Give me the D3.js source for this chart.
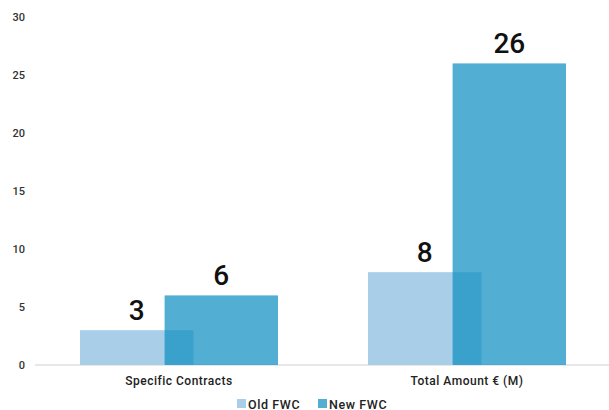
<!DOCTYPE html>
<html><head><meta charset="utf-8">
<script src="https://cdn.jsdelivr.net/npm/d3@7"></script>
<style>body{margin:0;background:#fff;font-family:Roboto,"Open Sans",sans-serif}</style>
</head><body><svg id="c" width="609" height="410"></svg>
<script>
const categories = ["Specific Contracts", "Total Amount € (M)"];
const oldFWC = [3, 8];
const newFWC = [6, 26];
const seriesNames = ["Old FWC", "New FWC"];
const yTicks = [0, 5, 10, 15, 20, 25, 30];

const svg = d3.select("#c");
const x = d3.scaleBand().domain(categories).range([35, 611]);
const y = d3.scaleLinear().domain([0, 30]).range([365, 17]);
const colors = ["rgb(169,206,232)", "rgba(15,143,193,0.72)"];
const barW = 113.4, off = 42.3;

svg.append("g").selectAll("text").data(yTicks).join("text")
  .attr("x", 25).attr("y", d => y(d)).attr("dy", "0.35em")
  .attr("text-anchor", "end").attr("font-size", 11).attr("font-weight", 500)
  .attr("fill", "#333").text(d => d);

svg.append("line").attr("x1", 35).attr("x2", 609).attr("y1", y(0)).attr("y2", y(0))
  .attr("stroke", "#d0d0d0").attr("stroke-width", 1);

const series = [oldFWC, newFWC];
series.forEach((vals, si) => {
  const dx = si === 0 ? -off : off;
  svg.append("g").selectAll("rect").data(vals).join("rect")
    .attr("x", (d, i) => x(categories[i]) + x.bandwidth() / 2 + dx - barW / 2)
    .attr("width", barW)
    .attr("y", d => y(d)).attr("height", d => y(0) - y(d))
    .attr("fill", colors[si]);
});
series.forEach((vals, si) => {
  const dx = si === 0 ? -off : off;
  svg.append("g").selectAll("text").data(vals).join("text")
    .attr("x", (d, i) => x(categories[i]) + x.bandwidth() / 2 + dx)
    .attr("y", d => y(d) - 10)
    .attr("text-anchor", "middle").attr("font-size", 28).attr("font-weight", 500)
    .attr("fill", "#111").text(d => d);
});

svg.append("g").selectAll("text").data(categories).join("text")
  .attr("x", d => x(d) + x.bandwidth() / 2).attr("y", 385)
  .attr("text-anchor", "middle").attr("font-size", 12).attr("font-weight", 500)
  .attr("letter-spacing", 0.5)
  .attr("fill", "#222").text(d => d);

const legX = [237, 318];
const lg = svg.append("g").selectAll("g").data(seriesNames).join("g")
  .attr("transform", (d, i) => `translate(${legX[i]},399)`);
lg.append("rect").attr("width", 9).attr("height", 9).attr("y", 0)
  .attr("fill", (d, i) => i === 0 ? colors[0] : "rgb(82,174,210)");
lg.append("text").attr("x", 11).attr("y", 9.5).attr("font-size", 12.5).attr("font-weight", 500)
  .attr("letter-spacing", 0.6)
  .attr("fill", "#222").text(d => d);
</script></body></html>
